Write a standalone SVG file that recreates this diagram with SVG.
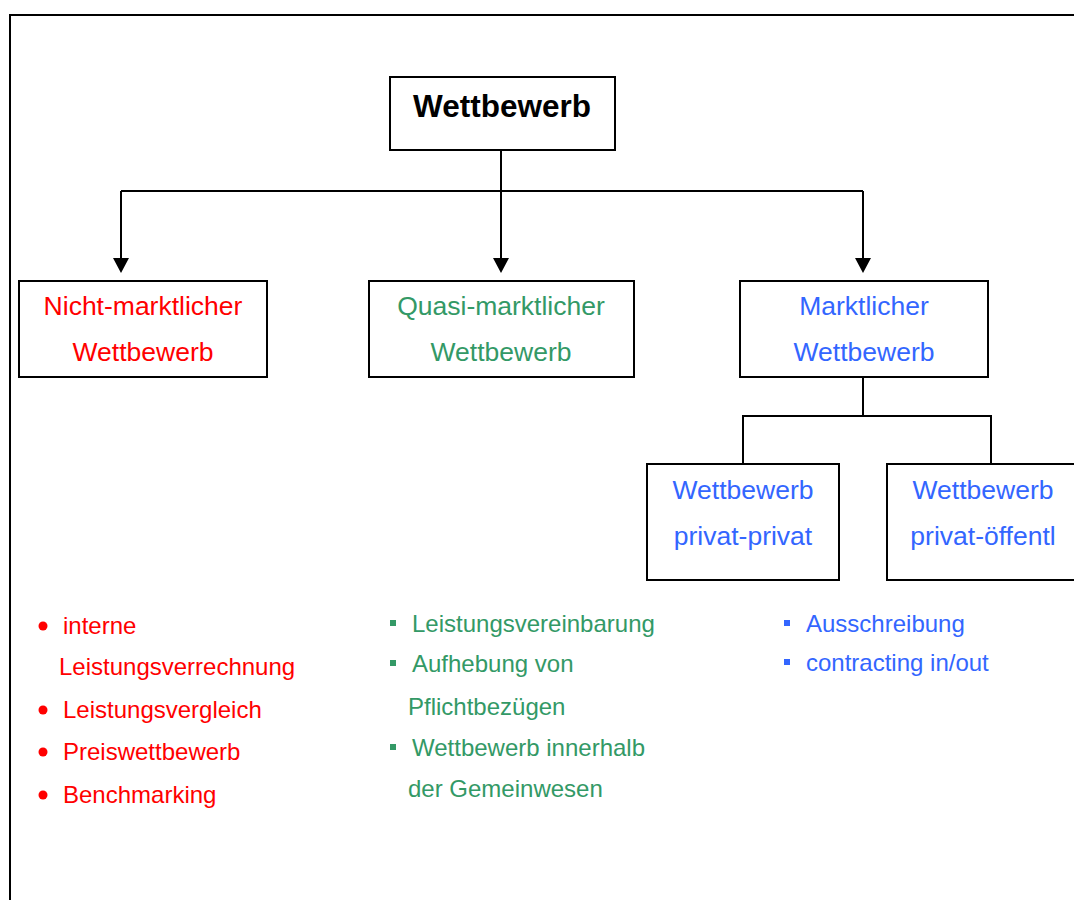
<svg xmlns="http://www.w3.org/2000/svg" width="1074" height="900" viewBox="0 0 1074 900">
<style>
.box{fill:#fff;stroke:#000;stroke-width:2}
.ln{fill:none;stroke:#000;stroke-width:2}
.ah{fill:#000}
text{font-family:"Liberation Sans",Arial,sans-serif}
.t{font-size:26.5px;text-anchor:middle}
.l{font-size:24px}
.red{fill:#FF0000}.green{fill:#339966}.blue{fill:#3366FF}
</style>
<rect x="10" y="15" width="1100" height="900" fill="none" stroke="#000" stroke-width="2"/>
<g id="connectors">
<path class="ln" d="M501,150 V191"/>
<path class="ln" d="M121,191 H863"/>
<path class="ln" d="M121,191 V258"/>
<path class="ln" d="M501,191 V258"/>
<path class="ln" d="M863,191 V258"/>
<path class="ah" d="M113,258 L129,258 L121,273 Z"/>
<path class="ah" d="M493,258 L509,258 L501,273 Z"/>
<path class="ah" d="M855,258 L871,258 L863,273 Z"/>
<path class="ln" d="M863,377 V416"/>
<path class="ln" d="M743,464 V416 H991 V464"/>
</g>
<g id="root">
<rect class="box" x="390" y="77" width="225" height="73"/>
<text x="502" y="117" style="font-size:31.5px;font-weight:bold;text-anchor:middle">Wettbewerb</text>
</g>
<g id="nicht">
<rect class="box" x="19" y="281" width="248" height="96"/>
<text class="t red" x="143" y="315">Nicht-marktlicher</text>
<text class="t red" x="143" y="361">Wettbewerb</text>
</g>
<g id="quasi">
<rect class="box" x="369" y="281" width="265" height="96"/>
<text class="t green" x="501" y="315">Quasi-marktlicher</text>
<text class="t green" x="501" y="361">Wettbewerb</text>
</g>
<g id="markt">
<rect class="box" x="740" y="281" width="248" height="96"/>
<text class="t blue" x="864" y="315">Marktlicher</text>
<text class="t blue" x="864" y="361">Wettbewerb</text>
</g>
<g id="pp">
<rect class="box" x="647" y="464" width="192" height="116"/>
<text class="t blue" x="743" y="499">Wettbewerb</text>
<text class="t blue" x="743" y="545">privat-privat</text>
</g>
<g id="po">
<rect class="box" x="887" y="464" width="192" height="116"/>
<text class="t blue" x="983" y="499">Wettbewerb</text>
<text class="t blue" x="983" y="545">privat-öffentl</text>
</g>
<g id="list-red" class="red">
<circle cx="43" cy="626" r="4.5"/>
<circle cx="43" cy="710" r="4.5"/>
<circle cx="43" cy="752" r="4.5"/>
<circle cx="43" cy="795" r="4.5"/>
<text class="l" x="63" y="634">interne</text>
<text class="l" x="59" y="675">Leistungsverrechnung</text>
<text class="l" x="63" y="718">Leistungsvergleich</text>
<text class="l" x="63" y="760">Preiswettbewerb</text>
<text class="l" x="63" y="803">Benchmarking</text>
</g>
<g id="list-green" class="green">
<rect x="390" y="620" width="6" height="6"/>
<rect x="390" y="660" width="6" height="6"/>
<rect x="390" y="744" width="6" height="6"/>
<text class="l" x="412" y="632">Leistungsvereinbarung</text>
<text class="l" x="412" y="672">Aufhebung von</text>
<text class="l" x="408" y="715">Pflichtbezügen</text>
<text class="l" x="412" y="756">Wettbewerb innerhalb</text>
<text class="l" x="408" y="797">der Gemeinwesen</text>
</g>
<g id="list-blue" class="blue">
<rect x="784" y="620" width="6" height="6"/>
<rect x="784" y="659" width="6" height="6"/>
<text class="l" x="806" y="632">Ausschreibung</text>
<text class="l" x="806" y="671">contracting in/out</text>
</g>
</svg>
